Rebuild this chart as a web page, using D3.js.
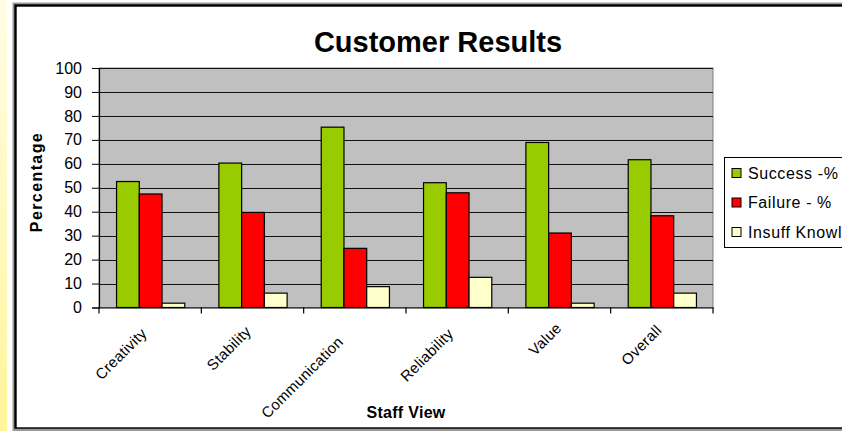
<!DOCTYPE html>
<html><head><meta charset="utf-8">
<script src="https://cdn.jsdelivr.net/npm/d3@7"></script>
<style>
html,body{margin:0;padding:0;background:#fff;}
svg{display:block;font-family:Arial,"Liberation Sans",sans-serif;}
</style></head>
<body><svg id="c" width="842" height="431"></svg>
<script>
const categories = ["Creativity","Stability","Communication","Reliability","Value","Overall"];
const success = [52.6, 60.3, 75.3, 52.1, 68.9, 61.7];
const failure = [47.4, 39.7, 24.7, 47.9, 31.1, 38.3];
const insuff  = [1.8, 6.0, 8.7, 12.6, 1.8, 6.0];
const seriesNames = ["Success -%", "Failure - %", "Insuff Knowl"];
const seriesColors = ["#99CC00", "#FF0000", "#FFFFCC"];
const yTicks = [0,10,20,30,40,50,60,70,80,90,100];

const svg = d3.select("#c");
// left yellow strip
const defs = svg.append("defs");
const g1 = defs.append("linearGradient").attr("id","ystrip").attr("x1",0).attr("y1",0).attr("x2",0).attr("y2",1);
g1.append("stop").attr("offset","0%").attr("stop-color","#FFFDE6");
g1.append("stop").attr("offset","100%").attr("stop-color","#FFF59A");
svg.append("rect").attr("x",0).attr("y",0).attr("width",7).attr("height",431).attr("fill","url(#ystrip)");

// chart frame
svg.append("rect").attr("x",14.5).attr("y",4.5).attr("width",900).attr("height",425)
  .attr("fill","#fff").attr("stroke","#999").attr("stroke-width",4);
svg.append("rect").attr("x",15.5).attr("y",5.5).attr("width",900).attr("height",423)
  .attr("fill","#fff").attr("stroke","#000").attr("stroke-width",2.4);
svg.append("line").attr("x1",14).attr("x2",842).attr("y1",429.5).attr("y2",429.5).attr("stroke","#999").attr("stroke-width",1.5);

const L = 99, R = 713, T = 68, B = 307.5;
const y = d3.scaleLinear().domain([0,100]).range([B,T]);
const x0 = d3.scaleBand().domain(categories).range([L,R]).paddingInner(0).paddingOuter(0);
const step = x0.step();
const gap = step * 1.5 / 4.5;
const x1 = d3.scaleBand().domain(seriesNames).range([gap/2, step - gap/2]).padding(0);

// plot bg
svg.append("rect").attr("x",L).attr("y",T).attr("width",R-L).attr("height",B-T)
  .attr("fill","#C0C0C0").attr("stroke","#808080").attr("stroke-width",1);

// gridlines
svg.append("g").selectAll("line").data(yTicks.filter(d=>d>0)).join("line")
  .attr("x1",L).attr("x2",R).attr("y1",d=>Math.round(y(d))+0.5).attr("y2",d=>Math.round(y(d))+0.5)
  .attr("stroke","#111").attr("stroke-width",1);

// bars
const data = categories.map((c,i)=>({c, vals:[success[i],failure[i],insuff[i]]}));
const grp = svg.append("g").selectAll("g").data(data).join("g")
  .attr("transform",d=>`translate(${x0(d.c)},0)`);
grp.selectAll("rect").data(d=>d.vals.map((v,j)=>({v, s:seriesNames[j], col:seriesColors[j]}))).join("rect")
  .attr("x",d=>x1(d.s)+0.5).attr("width",x1.bandwidth())
  .attr("y",d=>y(d.v)).attr("height",d=>B-y(d.v))
  .attr("fill",d=>d.col).attr("stroke","#000").attr("stroke-width",1.2);

// y axis
const yAxis = svg.append("g").attr("transform",`translate(${L},0)`)
  .call(d3.axisLeft(y).tickValues(yTicks).tickSize(7).tickPadding(10));
yAxis.select(".domain").attr("stroke","#000").attr("stroke-width",1.2);
yAxis.selectAll(".tick line").attr("stroke","#000");
yAxis.selectAll("text").attr("font-size",16).attr("fill","#000").attr("font-family","Arial, 'Liberation Sans', sans-serif");

// x axis
const xAxis = svg.append("g").attr("transform",`translate(0,${B})`)
  .call(d3.axisBottom(x0).tickSize(0).tickPadding(0));
xAxis.select(".domain").attr("stroke","#000").attr("stroke-width",1.2);
xAxis.selectAll("text")
  .attr("font-size",15).attr("fill","#000").attr("letter-spacing","0.3px")
  .attr("font-family","Arial, 'Liberation Sans', sans-serif")
  .attr("text-anchor","end").attr("dy",0).attr("y",0)
  .attr("transform","translate(-1.5,26) rotate(-45)")
  .each(function(){
    const len = this.getComputedTextLength();
    d3.select(this).attr("x", -0.28*(len-61));
  });
// category boundary ticks
const bounds = categories.map(c=>x0(c)).concat([x0(categories[categories.length-1])+step]);
svg.append("g").selectAll("line").data(bounds).join("line")
  .attr("x1",d=>d).attr("x2",d=>d).attr("y1",B).attr("y2",B+6).attr("stroke","#000").attr("stroke-width",1.2);

// titles
svg.append("text").attr("x",438).attr("y",52).attr("text-anchor","middle")
  .attr("font-size",29).attr("font-weight","bold").text("Customer Results");
svg.append("text").attr("x",(L+R)/2).attr("y",418).attr("text-anchor","middle")
  .attr("font-size",16).attr("font-weight","bold").attr("letter-spacing","0.3px").text("Staff View");
svg.append("text").attr("transform","translate(42,182) rotate(-90)").attr("text-anchor","middle")
  .attr("font-size",16).attr("font-weight","bold").attr("letter-spacing","1.4px").text("Percentage");

// legend
const lg = svg.append("g");
lg.append("rect").attr("x",724.5).attr("y",157.5).attr("width",200).attr("height",90)
  .attr("fill","#fff").attr("stroke","#000").attr("stroke-width",1);
const rowY = [173, 202.5, 232];
const items = lg.selectAll("g.it").data(seriesNames).join("g").attr("class","it")
  .attr("transform",(d,i)=>`translate(0,${rowY[i]})`);
items.append("rect").attr("x",732).attr("y",-4.5).attr("width",9).attr("height",9)
  .attr("fill",(d,i)=>seriesColors[i]).attr("stroke","#000").attr("stroke-width",1);
items.append("text").attr("x",748).attr("y",0).attr("dy","0.36em")
  .attr("font-size",16).attr("letter-spacing","0.6px").text(d=>d);
</script></body></html>
